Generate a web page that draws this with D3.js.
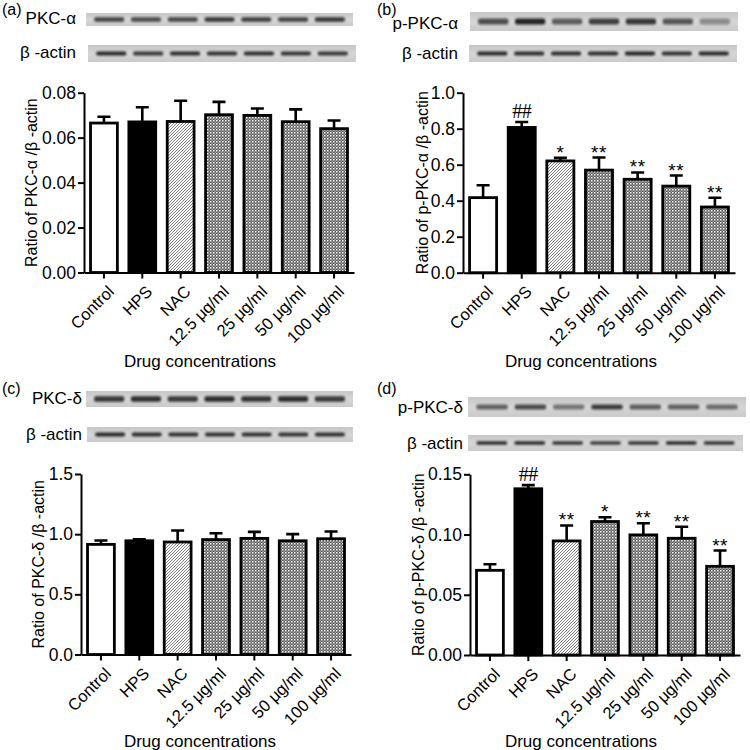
<!DOCTYPE html>
<html>
<head>
<meta charset="utf-8">
<script src="https://cdn.jsdelivr.net/npm/d3@7"></script>
<style>
  body { margin: 0; background: #fff; }
  svg { display: block; font-family: "Liberation Sans", Arial, sans-serif; }
</style>
</head>
<body>
<svg width="750" height="750"></svg>
<script>
const groups = ["Control", "HPS", "NAC", "12.5 μg/ml", "25 μg/ml", "50 μg/ml", "100 μg/ml"];

// (a) PKC-α / β-actin
const pkcAlphaMean = [0.0665, 0.0670, 0.0672, 0.0702, 0.0699, 0.0671, 0.0640];
const pkcAlphaErr = [0.0028, 0.0065, 0.0092, 0.0057, 0.0031, 0.0055, 0.0036];
const pkcAlphaTicks = [0, 0.02, 0.04, 0.06, 0.08];

// (b) p-PKC-α / β-actin
const pPkcAlphaMean = [0.417, 0.807, 0.621, 0.570, 0.519, 0.481, 0.365];
const pPkcAlphaErr = [0.069, 0.030, 0.017, 0.070, 0.038, 0.059, 0.051];
const pPkcAlphaMarks = ["", "##", "*", "**", "**", "**", "**"];
const pPkcAlphaTicks = [0, 0.2, 0.4, 0.6, 0.8, 1.0];

// (c) PKC-δ / β-actin
const pkcDeltaMean = [0.915, 0.945, 0.935, 0.955, 0.965, 0.945, 0.962];
const pkcDeltaErr = [0.032, 0.013, 0.095, 0.053, 0.054, 0.055, 0.060];
const pkcDeltaTicks = [0, 0.5, 1.0, 1.5];

// (d) p-PKC-δ / β-actin
const pPkcDeltaMean = [0.0703, 0.1380, 0.0947, 0.1108, 0.0997, 0.0969, 0.0736];
const pPkcDeltaErr = [0.0050, 0.0030, 0.0128, 0.0036, 0.0097, 0.0095, 0.0131];
const pPkcDeltaMarks = ["", "##", "**", "*", "**", "**", "**"];
const pPkcDeltaTicks = [0, 0.05, 0.10, 0.15];

// blot band intensities (0..1), one per lane
const bandPkcAlpha = [0.75, 0.72, 0.74, 0.82, 0.78, 0.76, 0.82];
const bandActinA = [0.9, 0.82, 0.88, 0.86, 0.88, 0.84, 0.82];
const bandPPkcAlpha = [0.7, 0.92, 0.62, 0.78, 0.82, 0.66, 0.38];
const bandActinB = [0.9, 0.88, 0.88, 0.88, 0.92, 0.86, 0.9];
const bandPkcDelta = [0.82, 0.86, 0.8, 0.88, 0.84, 0.88, 0.8];
const bandActinC = [0.9, 0.88, 0.86, 0.86, 0.86, 0.84, 0.86];
const bandPPkcDelta = [0.6, 0.72, 0.5, 0.8, 0.62, 0.6, 0.55];
const bandActinD = [0.85, 0.85, 0.8, 0.75, 0.8, 0.85, 0.8];

const svg = d3.select("svg");
const defs = svg.append("defs");

const hatch = defs.append("pattern")
    .attr("id", "hatch")
    .attr("width", 3).attr("height", 3)
    .attr("patternUnits", "userSpaceOnUse");
hatch.append("rect").attr("width", 3).attr("height", 3).attr("fill", "#fff");
hatch.append("path")
    .attr("d", "M-1,1 l2,-2 M0,3 l3,-3 M2,4 l2,-2")
    .attr("stroke", "#6e6e6e").attr("stroke-width", 0.9);

const check = defs.append("pattern")
    .attr("id", "check")
    .attr("width", 3).attr("height", 3)
    .attr("patternUnits", "userSpaceOnUse");
check.append("rect").attr("width", 3).attr("height", 3).attr("fill", "#5a5a5a");
check.append("rect").attr("width", 1.5).attr("height", 1.5).attr("fill", "#fff");
check.append("rect").attr("x", 1.5).attr("y", 1.5).attr("width", 1.5).attr("height", 1.5).attr("fill", "#9a9a9a");

defs.append("filter").attr("id", "blur")
    .attr("x", "-20%").attr("y", "-100%").attr("width", "140%").attr("height", "300%")
    .append("feGaussianBlur").attr("stdDeviation", 1.2);

const blotGrad = defs.append("linearGradient")
    .attr("id", "blotbg").attr("x1", 0).attr("y1", 0).attr("x2", 0).attr("y2", 1);
blotGrad.append("stop").attr("offset", "0%").attr("stop-color", "#c6c6c6");
blotGrad.append("stop").attr("offset", "50%").attr("stop-color", "#d6d6d6");
blotGrad.append("stop").attr("offset", "100%").attr("stop-color", "#cacaca");

const fills = ["#fff", "#000", "url(#hatch)", "url(#check)", "url(#check)", "url(#check)", "url(#check)"];

const panels = [
  {
    tag: "(a)", tagX: 2, tagY: 15,
    mean: pkcAlphaMean, err: pkcAlphaErr, marks: null,
    ticks: pkcAlphaTicks, fmt: d3.format(".2f"), max: 0.08,
    x0: 84, x1: 354, yTop: 92.7, yBot: 272.5,
    yTitle: "Ratio of PKC-α /β -actin", yTitleX: 31, xTitleX: 200, xTitleY: 367,
    blots: [
      { label: "PKC-α", lx: 76, ly: 24, x: 86, y: 13, w: 267, h: 13, bh: 4.5, bands: bandPkcAlpha },
      { label: "β -actin", lx: 76, ly: 58, x: 88, y: 45, w: 268, h: 17, bh: 4, bands: bandActinA }
    ]
  },
  {
    tag: "(b)", tagX: 377, tagY: 15,
    mean: pPkcAlphaMean, err: pPkcAlphaErr, marks: pPkcAlphaMarks,
    ticks: pPkcAlphaTicks, fmt: d3.format(".1f"), max: 1.0,
    x0: 463, x1: 735, yTop: 92.7, yBot: 272.7,
    yTitle: "Ratio of p-PKC-α /β -actin", yTitleX: 422, xTitleX: 581, xTitleY: 367,
    blots: [
      { label: "p-PKC-α", lx: 458, ly: 29, x: 470, y: 12, w: 268, h: 19, bh: 6, bands: bandPPkcAlpha },
      { label: "β -actin", lx: 458, ly: 59, x: 469, y: 45, w: 268, h: 17, bh: 4, bands: bandActinB }
    ]
  },
  {
    tag: "(c)", tagX: 2, tagY: 394,
    mean: pkcDeltaMean, err: pkcDeltaErr, marks: null,
    ticks: pkcDeltaTicks, fmt: d3.format(".1f"), max: 1.5,
    x0: 81, x1: 351, yTop: 474, yBot: 654.5,
    yTitle: "Ratio of PKC-δ /β -actin", yTitleX: 38, xTitleX: 200, xTitleY: 747,
    blots: [
      { label: "PKC-δ", lx: 82, ly: 404, x: 86, y: 391, w: 267, h: 16, bh: 5.5, bands: bandPkcDelta },
      { label: "β -actin", lx: 82, ly: 440, x: 87, y: 427, w: 266, h: 15, bh: 4, bands: bandActinC }
    ]
  },
  {
    tag: "(d)", tagX: 377, tagY: 394,
    mean: pPkcDeltaMean, err: pPkcDeltaErr, marks: pPkcDeltaMarks,
    ticks: pPkcDeltaTicks, fmt: d3.format(".2f"), max: 0.15,
    x0: 470, x1: 740, yTop: 474.3, yBot: 655,
    yTitle: "Ratio of p-PKC-δ /β -actin", yTitleX: 418, xTitleX: 581, xTitleY: 747,
    blots: [
      { label: "p-PKC-δ", lx: 463, ly: 413, x: 468, y: 397, w: 278, h: 20, bh: 5, bands: bandPPkcDelta },
      { label: "β -actin", lx: 463, ly: 449, x: 468, y: 435, w: 275, h: 16, bh: 3.5, bands: bandActinD }
    ]
  }
];

panels.forEach(p => {
  const g = svg.append("g");

  g.append("text")
      .attr("x", p.tagX).attr("y", p.tagY)
      .attr("font-size", 16)
      .text(p.tag);

  // western blot strips
  p.blots.forEach(b => {
    g.append("text")
        .attr("x", b.lx).attr("y", b.ly)
        .attr("text-anchor", "end")
        .attr("font-size", 17)
        .text(b.label);
    g.append("rect")
        .attr("x", b.x).attr("y", b.y)
        .attr("width", b.w).attr("height", b.h)
        .attr("fill", "url(#blotbg)");
    const lane = d3.scaleBand()
        .domain(d3.range(b.bands.length))
        .range([b.x, b.x + b.w])
        .paddingInner(0.18)
        .paddingOuter(0.22);
    g.selectAll(null)
        .data(b.bands)
        .enter()
        .append("rect")
        .attr("x", (d, i) => lane(i))
        .attr("y", b.y + b.h / 2 - b.bh / 2)
        .attr("width", lane.bandwidth())
        .attr("height", b.bh)
        .attr("rx", 2)
        .attr("fill", "#141414")
        .attr("opacity", d => d)
        .attr("filter", "url(#blur)");
  });

  const x = d3.scaleBand()
      .domain(groups)
      .range([p.x0, p.x1])
      .paddingInner(0.3)
      .paddingOuter(0.17);
  const y = d3.scaleLinear()
      .domain([0, p.max])
      .range([p.yBot, p.yTop]);

  // bars
  g.selectAll(".bar")
      .data(p.mean)
      .enter()
      .append("rect")
      .attr("class", "bar")
      .attr("x", (d, i) => x(groups[i]))
      .attr("y", d => y(d))
      .attr("width", x.bandwidth())
      .attr("height", d => y(0) - y(d))
      .attr("fill", (d, i) => fills[i])
      .attr("stroke", "#000")
      .attr("stroke-width", 2.8);

  // upper error bars
  const cx = i => x(groups[i]) + x.bandwidth() / 2;
  g.selectAll(".err")
      .data(p.mean)
      .enter()
      .append("path")
      .attr("class", "err")
      .attr("d", (d, i) => {
        const top = y(d + p.err[i]);
        return `M${cx(i)},${y(d)}V${top}M${cx(i) - 6.5},${top}H${cx(i) + 6.5}`;
      })
      .attr("fill", "none")
      .attr("stroke", "#000")
      .attr("stroke-width", 2.6);

  // significance marks
  if (p.marks) {
    g.selectAll(".mark")
        .data(p.marks)
        .enter()
        .append("text")
        .attr("class", "mark")
        .attr("x", (d, i) => cx(i))
        .attr("y", (d, i) => y(p.mean[i] + p.err[i]) - (d === "##" ? 4 : -1))
        .attr("text-anchor", "middle")
        .attr("font-family", d => d === "##" ? "Liberation Serif, serif" : null)
        .attr("font-size", d => d === "##" ? 20 : 19)
        .attr("letter-spacing", d => d === "##" ? -0.5 : 0.5)
        .text(d => d);
  }

  // axes
  const yAxis = g.append("g")
      .attr("transform", `translate(${p.x0},0)`)
      .call(d3.axisLeft(y).tickValues(p.ticks).tickFormat(p.fmt).tickSize(6).tickSizeOuter(0));
  const xAxis = g.append("g")
      .attr("transform", `translate(0,${p.yBot})`)
      .call(d3.axisBottom(x).tickSize(6).tickSizeOuter(0));

  [yAxis, xAxis].forEach(a => {
    a.selectAll("path, line").attr("stroke", "#000").attr("stroke-width", 2);
    a.selectAll("text").attr("fill", "#000").attr("font-size", 17.5)
        .attr("font-family", "Liberation Sans, Arial, sans-serif");
  });
  yAxis.selectAll("text").attr("x", -8);

  xAxis.selectAll("text")
      .attr("text-anchor", "end")
      .attr("dy", "0.35em")
      .attr("y", 0)
      .attr("x", 0)
      .attr("font-size", 16.5)
      .attr("transform", "translate(7,16) rotate(-45)");

  // axis titles
  g.append("text")
      .attr("transform", `translate(${p.yTitleX},${(p.yTop + p.yBot) / 2}) rotate(-90)`)
      .attr("text-anchor", "middle")
      .attr("dy", "0.35em")
      .attr("font-size", 16)
      .text(p.yTitle);
  g.append("text")
      .attr("x", p.xTitleX).attr("y", p.xTitleY)
      .attr("text-anchor", "middle")
      .attr("font-size", 17)
      .text("Drug concentrations");
});
</script>
</body>
</html>
